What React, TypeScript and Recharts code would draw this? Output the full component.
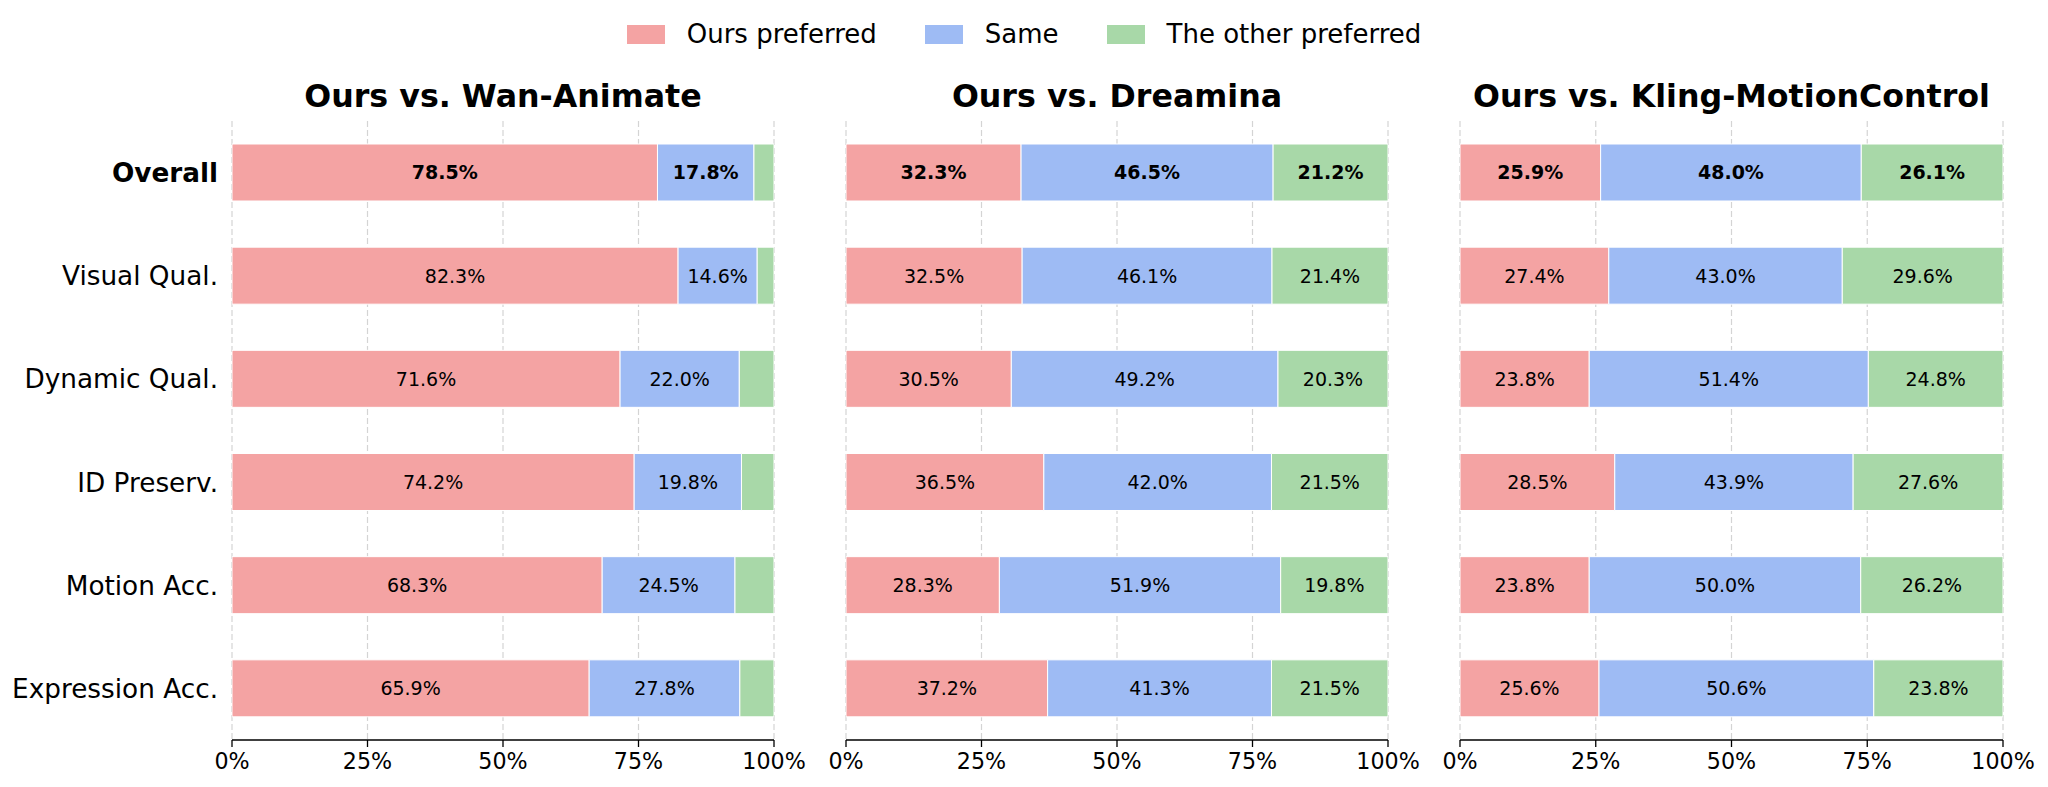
import React from 'react';
import { BarChart, Bar, XAxis, YAxis, CartesianGrid, LabelList } from 'recharts';

const CATEGORIES = ['Overall', 'Visual Qual.', 'Dynamic Qual.', 'ID Preserv.', 'Motion Acc.', 'Expression Acc.'];
const X_TICKS = [0, 25, 50, 75, 100];
const SERIES_NAMES = ['Ours preferred', 'Same', 'The other preferred'];
const SERIES_KEYS = ['ours', 'same', 'other'];
const COLORS = ['#F4A3A3', '#9EBBF4', '#A8D8A8'];
const PANEL_TITLES = ['Ours vs. Wan-Animate', 'Ours vs. Dreamina', 'Ours vs. Kling-MotionControl'];

const WAN_OURS = [78.5, 82.3, 71.6, 74.2, 68.3, 65.9];
const WAN_SAME = [17.8, 14.6, 22.0, 19.8, 24.5, 27.8];
const WAN_OTHER = [3.7, 3.1, 6.4, 6.0, 7.2, 6.3];

const DREAMINA_OURS = [32.3, 32.5, 30.5, 36.5, 28.3, 37.2];
const DREAMINA_SAME = [46.5, 46.1, 49.2, 42.0, 51.9, 41.3];
const DREAMINA_OTHER = [21.2, 21.4, 20.3, 21.5, 19.8, 21.5];

const KLING_OURS = [25.9, 27.4, 23.8, 28.5, 23.8, 25.6];
const KLING_SAME = [48.0, 43.0, 51.4, 43.9, 50.0, 50.6];
const KLING_OTHER = [26.1, 29.6, 24.8, 27.6, 26.2, 23.8];

const LABEL_MIN = 10;

function buildRows(ours: number[], same: number[], other: number[]) {
  return CATEGORIES.map((label, i) => ({ label, ours: ours[i], same: same[i], other: other[i] }));
}

const PANELS = [
  { title: PANEL_TITLES[0], rows: buildRows(WAN_OURS, WAN_SAME, WAN_OTHER) },
  { title: PANEL_TITLES[1], rows: buildRows(DREAMINA_OURS, DREAMINA_SAME, DREAMINA_OTHER) },
  { title: PANEL_TITLES[2], rows: buildRows(KLING_OURS, KLING_SAME, KLING_OTHER) },
];

// layout (positions of each chart box); XAxis reserves 30px below the plot
const X_AXIS_HEIGHT = 30;
const LAYOUT = [
  { left: 0, width: 810, margin: { top: 121, right: 36, bottom: 17, left: 0 }, yWidth: 232 },
  { left: 810, width: 614, margin: { top: 121, right: 36, bottom: 17, left: 36 }, yWidth: 0 },
  { left: 1424, width: 624, margin: { top: 121, right: 45, bottom: 17, left: 36 }, yWidth: 0 },
];
const HEIGHT = 787;

const renderBarLabel = (props: any) => {
  const { x, y, width, height, value, index } = props;
  if (value == null || value < LABEL_MIN) return null;
  const cx = Number(x) + Number(width) / 2;
  const cy = Number(y) + Number(height) / 2;
  return (
    <text
      x={cx}
      y={cy + 6.9}
      textAnchor="middle"
      fontSize={19}
      fontWeight={index === 0 ? 'bold' : 'normal'}
      fill="#000"
    >
      {`${Number(value).toFixed(1)}%`}
    </text>
  );
};

const YTick = (props: any) => {
  const { x, y, payload } = props;
  const bold = payload.value === 'Overall';
  return (
    <text x={x} y={y + 9.5} textAnchor="end" fontSize={26.3} fontWeight={bold ? 'bold' : 'normal'} fill="#000">
      {payload.value}
    </text>
  );
};

const XTick = (props: any) => {
  const { x, y, payload } = props;
  return (
    <text x={x} y={y + 16} textAnchor="middle" fontSize={22.2} fill="#000">
      {`${payload.value}%`}
    </text>
  );
};

function Panel({ idx }: { idx: number }) {
  const p = PANELS[idx];
  const l = LAYOUT[idx];
  const plotLeft = l.left + l.margin.left + l.yWidth;
  const plotWidth = l.width - l.margin.left - l.margin.right - l.yWidth;
  return (
    <>
      <div
        style={{
          position: 'absolute',
          left: plotLeft,
          width: plotWidth,
          top: 81,
          lineHeight: '31px',
          fontSize: 31.7,
          fontWeight: 'bold',
          textAlign: 'center',
          whiteSpace: 'nowrap',
          color: '#000',
        }}
      >
        {p.title}
      </div>
      <div style={{ position: 'absolute', left: l.left, top: 0 }}>
        <BarChart width={l.width} height={HEIGHT} data={p.rows} layout="vertical" margin={l.margin}>
          <CartesianGrid horizontal={false} vertical stroke="#d4d4d4" strokeDasharray="6 3" strokeWidth={1.2} />
          <XAxis
            type="number"
            domain={[0, 100]}
            ticks={X_TICKS}
            allowDataOverflow
            height={X_AXIS_HEIGHT}
            axisLine={{ stroke: '#000', strokeWidth: 1.3 }}
            tickLine={{ stroke: '#000', strokeWidth: 1.3 }}
            tickSize={7}
            tickMargin={6}
            tick={<XTick />}
            interval={0}
          />
          <YAxis
            type="category"
            dataKey="label"
            hide={idx !== 0}
            width={l.yWidth}
            axisLine={false}
            tickLine={false}
            tickSize={0}
            tickMargin={14}
            tick={<YTick />}
            interval={0}
          />
          {SERIES_KEYS.map((k, si) => (
            <Bar
              key={k}
              dataKey={k}
              name={SERIES_NAMES[si]}
              stackId="s"
              fill={COLORS[si]}
              stroke="#ffffff"
              strokeWidth={1}
              barSize={57}
              isAnimationActive={false}
            >
              <LabelList dataKey={k} content={renderBarLabel} />
            </Bar>
          ))}
        </BarChart>
      </div>
    </>
  );
}

function Legend() {
  return (
    <div
      style={{
        position: 'absolute',
        left: 0,
        width: 2048,
        top: 20,
        height: 28,
        display: 'flex',
        justifyContent: 'center',
        alignItems: 'center',
        fontSize: 26,
        color: '#000',
      }}
    >
      {SERIES_NAMES.map((n, i) => (
        <div key={n} style={{ display: 'flex', alignItems: 'center', marginLeft: i === 0 ? 0 : 48 }}>
          <div style={{ width: 38, height: 19, background: COLORS[i], marginRight: 22 }} />
          <span style={{ whiteSpace: 'nowrap', lineHeight: '28px' }}>{n}</span>
        </div>
      ))}
    </div>
  );
}

export default function App() {
  return (
    <div
      style={{
        position: 'absolute',
        left: 0,
        top: 0,
        width: 2048,
        height: HEIGHT,
        background: '#fff',
        overflow: 'hidden',
        fontFamily: '"DejaVu Sans", sans-serif',
      }}
    >
      <Legend />
      {PANELS.map((_, i) => (
        <Panel key={i} idx={i} />
      ))}
    </div>
  );
}
